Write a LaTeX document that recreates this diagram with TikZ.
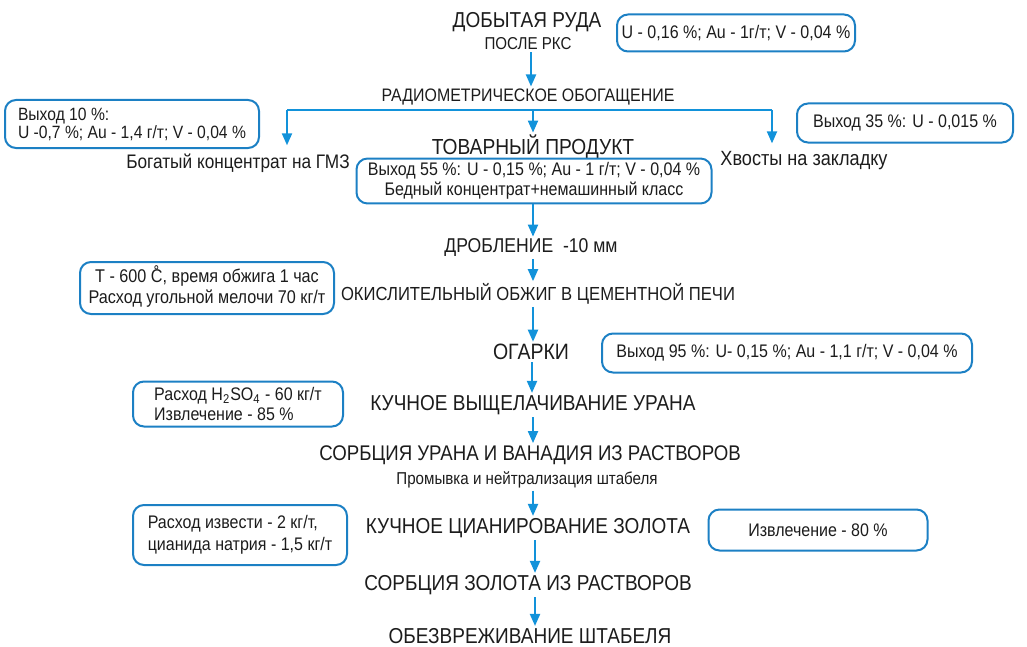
\documentclass[tikz,border=0pt]{standalone}
\usepackage{fontspec}
\setmainfont{Liberation Sans}[FakeStretch=0.88]
\usetikzlibrary{arrows.meta,positioning}
\definecolor{flowblue}{RGB}{18,146,218}
\definecolor{boxblue}{RGB}{28,128,196}
\definecolor{inkgray}{RGB}{28,28,28}
\tikzset{
  stage/.style={inner sep=1pt, text=inkgray, font=\fontsize{10.8}{12}\selectfont},
  substage/.style={stage, font=\fontsize{8.6}{10}\selectfont},
  sidestage/.style={stage, inner sep=4pt, font=\fontsize{9.8}{11}\selectfont},
  databox/.style={rounded corners=5.5pt, draw=boxblue, line width=1pt, text=inkgray,
                  inner sep=2pt, align=center, font=\fontsize{9.1}{10}\selectfont},
  flowarr/.style={-{Triangle[length=6pt,width=5pt]}, draw=flowblue, line width=1pt},
  flowline/.style={draw=flowblue, line width=1pt},
}
\begin{document}
\begin{tikzpicture}[x=0.5pt,y=-0.5pt]
\useasboundingbox (0,0) rectangle (1027,647);
% main line
\node[stage] (ruda) at (527,22) {ДОБЫТАЯ РУДА};
\node[substage] (rks) at (528,44) {ПОСЛЕ РКС};
\node[substage, font=\fontsize{9.05}{10}\selectfont] (radio) at (528,97) {РАДИОМЕТРИЧЕСКОЕ ОБОГАЩЕНИЕ};
\node[stage, font=\fontsize{10.9}{12}\selectfont] (product) at (533,147) {ТОВАРНЫЙ ПРОДУКТ};
\node[databox, minimum width=177.5pt, minimum height=22pt] (prodbox) at (534,181)
  {Выход 55 \%: U - 0,15 \%; Au - 1 г/т; V - 0,04 \%\\Бедный концентрат+немашинный класс};
\node[stage, font=\fontsize{10}{12}\selectfont] (crush) at (531,248) {ДРОБЛЕНИЕ\ \ -10 мм};
\node[stage, font=\fontsize{9.45}{11}\selectfont] (roast) at (538,294) {ОКИСЛИТЕЛЬНЫЙ ОБЖИГ В ЦЕМЕНТНОЙ ПЕЧИ};
\node[stage, font=\fontsize{11.1}{12}\selectfont] (cinder) at (531,352) {ОГАРКИ};
\node[stage] (leach) at (533,405) {КУЧНОЕ ВЫЩЕЛАЧИВАНИЕ УРАНА};
\node[stage, font=\fontsize{10.6}{12}\selectfont] (sorbu) at (530,455) {СОРБЦИЯ УРАНА И ВАНАДИЯ ИЗ РАСТВОРОВ};
\node[substage] (wash) at (527,480) {Промывка и нейтрализация штабеля};
\node[stage] (cyan) at (528,528) {КУЧНОЕ ЦИАНИРОВАНИЕ ЗОЛОТА};
\node[stage] (sorbau) at (528,585) {СОРБЦИЯ ЗОЛОТА ИЗ РАСТВОРОВ};
\node[stage] (neutr) at (530,636) {ОБЕЗВРЕЖИВАНИЕ ШТАБЕЛЯ};
% side products
\node[sidestage] (rich) at (238,163) {Богатый концентрат на ГМЗ};
\node[sidestage, font=\fontsize{10.3}{11}\selectfont] (tail) at (804,161) {Хвосты на закладку};
% data boxes
\node[databox, minimum width=119pt, minimum height=18.5pt] (orebox) at (736,33)
  {U - 0,16 \%; Au - 1г/т; V - 0,04 \%};
\node[databox, align=left, inner sep=3pt, minimum width=127pt, minimum height=24pt, font=\fontsize{8.9}{9}\selectfont] (richbox) at (132,124)
  {Выход 10 \%:\\U -0,7 \%; Au - 1,4 г/т; V - 0,04 \%};
\node[databox, minimum width=108pt, minimum height=19.5pt] (tailbox) at (905,123)
  {Выход 35 \%: U - 0,015 \%};
\node[databox, minimum width=127pt, minimum height=26pt, font=\fontsize{9.2}{10.5}\selectfont] (roastbox) at (207,288)
  {Т - 600 \ooalign{С\cr\hidewidth\raisebox{0.1em}{˚}\hidewidth\cr}, время обжига 1 час\\Расход угольной мелочи 70 кг/т};
\node[databox, minimum width=185pt, minimum height=19.5pt] (cinderbox) at (787,353)
  {Выход 95 \%: U- 0,15 \%; Au - 1,1 г/т; V - 0,04 \%};
\node[databox, align=left, minimum width=105pt, minimum height=22.5pt] (leachbox) at (238,404)
  {Расход H\textsubscript{2}SO\textsubscript{4} - 60 кг/т\\Извлечение - 85 \%};
\node[databox, align=left, minimum width=107pt, minimum height=30pt, font=\fontsize{9.1}{11}\selectfont] (cyanbox) at (240,535)
  {Расход извести - 2 кг/т,\\цианида натрия - 1,5 кг/т};
\node[databox, minimum width=109.5pt, minimum height=20.5pt] (recbox) at (818,530)
  {Извлечение - 80 \%};
% split after radiometric sorting
\coordinate (split) at (533,110);
\coordinate (lt) at (287,110);
\coordinate (rt) at (772,110);
\draw[flowline] (lt) -- (rt);
\draw[flowarr] (lt) -- (lt |- rich.north);
\draw[flowarr] (rt) -- (rt |- tail.north);
\draw[flowarr] (split) -- (split |- product.north);
% arrows
\draw[flowarr] (rks.south -| 531,0) -- (radio.north -| 531,0);
\draw[flowarr] (prodbox.south -| 533,0) -- (crush.north -| 533,0);
\draw[flowarr] (crush.south -| 533,0) -- (roast.north -| 533,0);
\draw[flowarr] (roast.south -| 533,0) -- (cinder.north -| 533,0);
\draw[flowarr] (cinder.south -| 532,0) -- (leach.north -| 532,0);
\draw[flowarr] (leach.south -| 533,0) -- (sorbu.north -| 533,0);
\draw[flowarr] (wash.south -| 533,0) -- (cyan.north -| 533,0);
\draw[flowarr] (cyan.south -| 535,0) -- (sorbau.north -| 535,0);
\draw[flowarr] (sorbau.south -| 535,0) -- (neutr.north -| 535,0);
\end{tikzpicture}
\end{document}
